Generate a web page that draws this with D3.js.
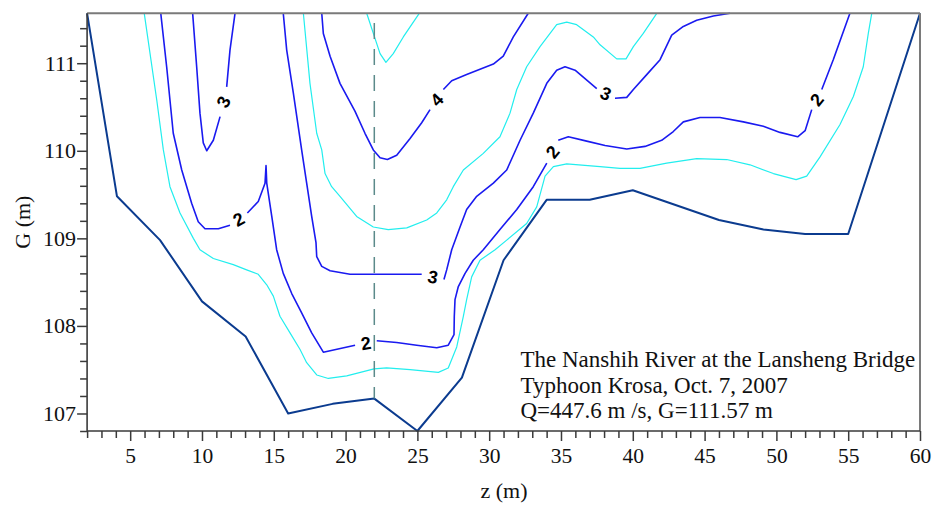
<!DOCTYPE html>
<html><head><meta charset="utf-8">
<script src="https://cdn.jsdelivr.net/npm/d3@7"></script>
<style>html,body{margin:0;padding:0;background:#fff;} svg{display:block;}</style>
</head><body><svg id="chart" width="936" height="505"></svg>
<script>
// ---------------- data ----------------
const zDomain = [2, 60];
const gDomain = [106.8, 111.57];
const xMajorTicks = [5, 10, 15, 20, 25, 30, 35, 40, 45, 50, 55, 60];
const yMajorTicks = [107, 108, 109, 110, 111];
const xTitle = "z (m)";
const yTitle = "G (m)";
const noteLines = ["The Nanshih River at the Lansheng Bridge", "Typhoon Krosa, Oct. 7, 2007", "Q=447.6 m /s, G=111.57 m"];

// river bed profile [z, G]
const bedProfile = [[2,111.57],[4.08,109.48],[7.08,108.98],[10,108.28],[13.04,107.88],[16,107.0],[19.1,107.11],[22,107.17],[25,106.8],[28.1,107.41],[31,108.75],[34,109.44],[37,109.44],[40,109.55],[46,109.21],[49.1,109.1],[52,109.05],[55,109.05],[60,111.57]];

// vertical measuring line
const verticalZ = 22;
const verticalTopG = 111.46;

// unlabelled (cyan) isovels, each a list of segments of [z, G]
const isovelLow = [[[5.98,111.57],[6.85,110.58],[7.31,110.01],[7.77,109.59],[8.47,109.29],[9.40,109.0],[9.86,108.87],[10.79,108.77],[12.18,108.70],[13.11,108.64],[13.92,108.59],[14.51,108.47],[14.97,108.34],[15.43,108.11],[16.13,107.92],[16.83,107.73],[17.29,107.58],[17.99,107.44],[18.80,107.40],[20.08,107.43],[21.98,107.51],[22.86,107.52],[24.49,107.50],[26.46,107.47],[27.15,107.52],[27.74,107.76],[28.20,108.11],[28.43,108.30],[28.78,108.56],[29.36,108.75],[30.41,108.87],[31.22,108.98],[32.61,109.17],[33.31,109.36],[33.89,109.71],[34.47,109.82],[35.40,109.85],[37.72,109.82],[39.11,109.80],[40.50,109.80],[42.36,109.86],[44.45,109.91],[46.54,109.90],[48.16,109.84],[49.79,109.74],[51.37,109.67],[52.11,109.71],[53.04,109.93],[54.43,110.30],[55.36,110.62],[56.05,110.96],[56.40,111.34],[56.64,111.57]]];
const isovelMid = [[[17.06,111.57],[17.52,110.77],[17.99,110.20],[18.34,110.01],[18.57,109.74],[19.03,109.59],[19.61,109.48],[20.77,109.25],[21.93,109.13],[22.97,109.10],[24.26,109.12],[25.65,109.21],[26.35,109.29],[27.04,109.44],[27.50,109.59],[28.20,109.78],[29.59,109.97],[30.75,110.16],[31.45,110.43],[31.92,110.70],[32.61,110.96],[33.54,111.19],[34.70,111.44],[35.40,111.47],[36.09,111.44],[37.25,111.30],[37.72,111.21],[38.88,111.05],[39.53,111.05],[40.04,111.19],[40.73,111.34],[41.67,111.57]]];
const isovelTop = [[[21.47,111.57],[22.40,111.11],[22.81,111.01],[23.32,111.11],[24.02,111.30],[25.13,111.57]]];

// labelled (blue) isovels; a label sits in each gap between segments
const isovel2 = [
  [[7.13,111.57],[7.54,110.96],[8.00,110.20],[8.59,109.78],[9.28,109.40],[9.74,109.19],[10.21,109.11],[11.14,109.11],[11.95,109.15]],
  [[13.16,109.29],[13.92,109.42],[14.39,109.63],[14.46,109.83],[14.51,109.63],[14.86,109.25],[15.20,108.87],[15.66,108.60],[16.25,108.37],[16.94,108.15],[17.64,107.92],[18.45,107.70],[20.66,107.78]],
  [[22.17,107.83],[23.56,107.81],[24.95,107.78],[26.35,107.75],[27.15,107.78],[27.55,107.90],[27.57,108.11],[27.62,108.30],[27.85,108.45],[28.32,108.60],[28.89,108.75],[29.59,108.87],[30.75,109.10],[31.92,109.33],[33.07,109.59],[34.01,109.86]],
  [[34.81,110.12],[35.51,110.16],[36.79,110.11],[38.07,110.06],[39.58,110.02],[40.85,110.05],[42.01,110.12],[42.82,110.22],[43.52,110.33],[44.68,110.38],[46.07,110.38],[47.70,110.33],[49.09,110.28],[50.25,110.21],[51.48,110.16],[52.0,110.23],[52.46,110.47]],
  [[53.16,110.70],[53.96,111.04],[55.12,111.57]]
];
const isovel3Left = [
  [[9.35,111.57],[9.63,110.96],[9.86,110.43],[10.09,110.09],[10.33,110.0],[10.79,110.12],[11.26,110.39]],
  [[11.72,110.73],[11.95,111.15],[12.30,111.57]]
];
const isovel3 = [
  [[15.66,111.57],[15.90,111.15],[16.36,110.66],[16.94,110.01],[17.29,109.63],[17.64,109.25],[17.94,108.95],[17.99,108.79],[18.34,108.68],[18.92,108.63],[20.31,108.59],[21.98,108.59],[24.26,108.59],[25.30,108.59]],
  [[26.85,108.53],[27.04,108.64],[27.39,108.87],[27.97,109.13],[28.43,109.33],[29.13,109.48],[30.29,109.63],[31.22,109.78],[32.15,110.12],[33.07,110.43],[34.01,110.77],[34.70,110.92],[35.28,110.96],[35.98,110.92],[37.49,110.71]],
  [[38.76,110.60],[39.58,110.61],[40.04,110.70],[40.97,110.87],[41.90,111.04],[42.71,111.32],[43.52,111.42],[44.45,111.49],[45.61,111.54],[46.77,111.57]]
];
const isovel4 = [
  [[18.34,111.57],[18.45,111.34],[18.92,111.08],[19.61,110.77],[20.66,110.45],[21.35,110.20],[21.93,110.01],[22.40,109.92],[22.91,109.90],[23.56,109.95],[24.49,110.14],[25.30,110.32],[25.88,110.47]],
  [[26.81,110.70],[27.39,110.80],[28.43,110.87],[30.29,110.99],[30.98,111.08],[31.68,111.30],[32.72,111.57]]
];

const minorIsovels = [isovelLow, isovelMid, isovelTop];
const labelledIsovels = [
  {label: "2", segments: isovel2},
  {label: "3", segments: isovel3Left},
  {label: "3", segments: isovel3},
  {label: "4", segments: isovel4}
];

// ---------------- drawing ----------------
const plot = {left: 87.1, right: 920, top: 13.3, bottom: 431};
const svg = d3.select("#chart");
const x = d3.scaleLinear().domain(zDomain).range([plot.left, plot.right]);
const y = d3.scaleLinear().domain(gDomain).range([plot.bottom, plot.top]);
const line = d3.line().x(d => x(d[0])).y(d => y(d[1]));
const serif = "'Liberation Serif','Times New Roman',Times,serif";
const blue = "#1a1af0", cyan = "#22eeee", bedColor = "#0b3b8f", axisColor = "#3a3a3a";

// minor (cyan) isovels
minorIsovels.forEach(segs => segs.forEach(seg => {
  svg.append("path").attr("d", line(seg)).attr("fill", "none")
    .attr("stroke", cyan).attr("stroke-width", 1.2).attr("stroke-linejoin", "round");
}));

// labelled isovels
labelledIsovels.forEach(c => {
  c.segments.forEach(seg => {
    svg.append("path").attr("d", line(seg)).attr("fill", "none")
      .attr("stroke", blue).attr("stroke-width", 1.6).attr("stroke-linejoin", "round");
  });
  for (let i = 0; i < c.segments.length - 1; i++) {
    const a = c.segments[i][c.segments[i].length - 1];
    const b = c.segments[i + 1][0];
    const ax = x(a[0]), ay = y(a[1]), bx = x(b[0]), by = y(b[1]);
    const cx = (ax + bx) / 2, cy = (ay + by) / 2;
    let ang = Math.atan2(by - ay, bx - ax) * 180 / Math.PI;
    if (ang > 90) ang -= 180;
    if (ang < -90) ang += 180;
    ang *= 0.8;
    svg.append("text")
      .attr("transform", `translate(${cx},${cy}) rotate(${ang})`)
      .attr("text-anchor", "middle").attr("dy", "0.36em")
      .attr("font-family", "'Liberation Sans',Arial,Helvetica,sans-serif")
      .attr("font-weight", "bold").attr("font-size", 18).attr("fill", "#000")
      .text(c.label);
  }
});

// river bed
svg.append("path").attr("d", line(bedProfile)).attr("fill", "none")
  .attr("stroke", bedColor).attr("stroke-width", 2).attr("stroke-linejoin", "round");

// vertical dashed line
const bedAt = d3.scaleLinear().domain(bedProfile.map(d => d[0])).range(bedProfile.map(d => d[1]));
svg.append("line")
  .attr("x1", x(verticalZ)).attr("x2", x(verticalZ))
  .attr("y1", y(verticalTopG)).attr("y2", y(bedAt(verticalZ)))
  .attr("stroke", "#5b8a8a").attr("stroke-width", 1.5).attr("stroke-dasharray", "16,10");

// frame: top and right in grey
svg.append("line").attr("x1", plot.left).attr("x2", plot.right).attr("y1", plot.top).attr("y2", plot.top)
  .attr("stroke", "#7a7a7a").attr("stroke-width", 2);
svg.append("line").attr("x1", plot.right).attr("x2", plot.right).attr("y1", plot.top).attr("y2", plot.bottom)
  .attr("stroke", "#7a7a7a").attr("stroke-width", 2);

// axes
function styleAxis(g) {
  g.select(".domain").remove();
  g.selectAll(".tick line").attr("stroke", axisColor).attr("stroke-width", 1.5);
  g.selectAll(".tick text").attr("font-family", serif).attr("fill", "#111");
}
const xMinor = d3.range(zDomain[0], zDomain[1] + 1, 1).filter(v => !xMajorTicks.includes(v));
svg.append("g").attr("transform", `translate(0,${plot.bottom})`)
  .call(d3.axisBottom(x).tickValues(xMinor).tickSize(7).tickFormat(""))
  .call(styleAxis);
svg.append("g").attr("transform", `translate(0,${plot.bottom})`)
  .call(d3.axisBottom(x).tickValues(xMajorTicks).tickSize(10).tickPadding(7).tickFormat(d3.format("d")))
  .call(styleAxis)
  .call(g => g.selectAll(".tick text").attr("font-size", 21.5));

const yMinor = d3.range(0, 24).map(i => +(106.8 + i * 0.2).toFixed(1)).filter(v => v <= gDomain[1] && !yMajorTicks.includes(v));
svg.append("g").attr("transform", `translate(${plot.left},0)`)
  .call(d3.axisLeft(y).tickValues(yMinor).tickSize(7).tickFormat(""))
  .call(styleAxis);
svg.append("g").attr("transform", `translate(${plot.left},0)`)
  .call(d3.axisLeft(y).tickValues(yMajorTicks).tickSize(10).tickPadding(1).tickFormat(d3.format("d")))
  .call(styleAxis)
  .call(g => g.selectAll(".tick text").attr("font-size", 22));

// axis lines
svg.append("line").attr("x1", plot.left).attr("x2", plot.left).attr("y1", plot.top).attr("y2", plot.bottom)
  .attr("stroke", axisColor).attr("stroke-width", 1.6);
svg.append("line").attr("x1", plot.left).attr("x2", plot.right).attr("y1", plot.bottom).attr("y2", plot.bottom)
  .attr("stroke", axisColor).attr("stroke-width", 1.6);

// axis titles
svg.append("text").attr("x", (plot.left + plot.right) / 2 + 0.5).attr("y", 498)
  .attr("text-anchor", "middle").attr("font-family", serif).attr("font-size", 22).attr("fill", "#111")
  .text(xTitle);
svg.append("text").attr("transform", `translate(30,${(plot.top + plot.bottom) / 2}) rotate(-90)`)
  .attr("text-anchor", "middle").attr("font-family", serif).attr("font-size", 22).attr("fill", "#111")
  .text(yTitle);

// annotation
svg.append("g").selectAll("text").data(noteLines).join("text")
  .attr("x", 520.5).attr("y", (d, i) => 367 + i * 25.6)
  .attr("font-family", serif).attr("font-size", 23).attr("fill", "#111")
  .text(d => d);
</script>
</body></html>
